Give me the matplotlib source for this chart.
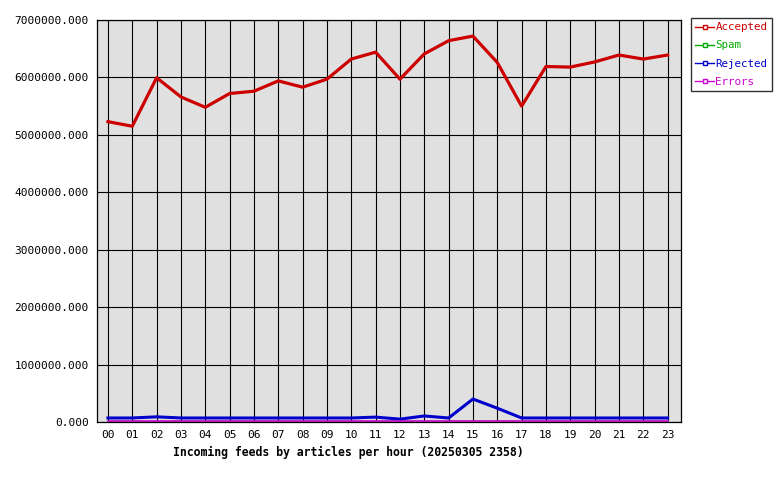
import matplotlib
matplotlib.use("Agg")
import matplotlib.pyplot as plt
from matplotlib.lines import Line2D

hours = ["00", "01", "02", "03", "04", "05", "06", "07", "08", "09", "10", "11",
         "12", "13", "14", "15", "16", "17", "18", "19", "20", "21", "22", "23"]
accepted = [5230000, 5150000, 5995000, 5660000, 5480000, 5720000, 5760000, 5940000,
            5830000, 5970000, 6320000, 6440000, 5970000, 6410000, 6640000, 6720000,
            6260000, 5500000, 6190000, 6180000, 6270000, 6390000, 6320000, 6390000]
spam = [0] * 24
rejected = [70000, 70000, 90000, 70000, 70000, 70000, 70000, 70000, 70000, 70000, 70000, 85000,
            50000, 105000, 70000, 400000, 240000, 70000, 70000, 70000, 70000, 70000, 70000, 70000]
errors = [25000] * 24

series = [("Accepted", accepted, "#cc0000", 2.3),
          ("Spam", spam, "#00aa00", 1.2),
          ("Rejected", rejected, "#0000cc", 2.2),
          ("Errors", errors, "#cc00cc", 1.2)]

plt.rcParams["font.family"] = "DejaVu Sans Mono"

fig = plt.figure(figsize=(7.8, 4.8), dpi=100)
ax = fig.add_axes([97 / 780, 58 / 480, 584 / 780, 402 / 480])
ax.set_facecolor("#e0e0e0")
x = list(range(len(hours)))
for name, vals, col, lw in series:
    ax.plot(x, vals, color=col, lw=lw, zorder=3)

ax.set_xlim(-0.45, 23.55)
ax.set_ylim(0, 7000000)
ax.set_xticks(x)
ax.set_xticklabels(hours, fontsize=8)
yt = [i * 1000000 for i in range(8)]
ax.set_yticks(yt)
ax.set_yticklabels([f"{v:.3f}" for v in yt], fontsize=8)
ax.tick_params(length=0, pad=6)
ax.grid(True, color="black", lw=0.8)
ax.set_axisbelow(True)
for s in ax.spines.values():
    s.set_linewidth(0.9)

fig.text(348 / 780, 1 - 452 / 480, "Incoming feeds by articles per hour (20250305 2358)",
         ha="center", va="center", fontsize=8.3, fontweight="bold")

handles = [Line2D([0], [0], color=col, lw=1.0, marker="s", markersize=2.5,
                  markerfacecolor="white", markeredgecolor=col) for _, _, col, _ in series]
leg = fig.legend(handles, [s[0] for s in series], loc="upper left",
                 bbox_to_anchor=(691 / 780, 1 - 18 / 480), fontsize=7.8,
                 frameon=True, fancybox=False, handlelength=1.7, handletextpad=0.15,
                 borderpad=0.4, labelspacing=0.75, borderaxespad=0)
leg.get_frame().set_edgecolor("black")
leg.get_frame().set_linewidth(1)
for t, (_, _, col, _) in zip(leg.get_texts(), series):
    t.set_color(col)

fig.savefig("out.png", dpi=100)
